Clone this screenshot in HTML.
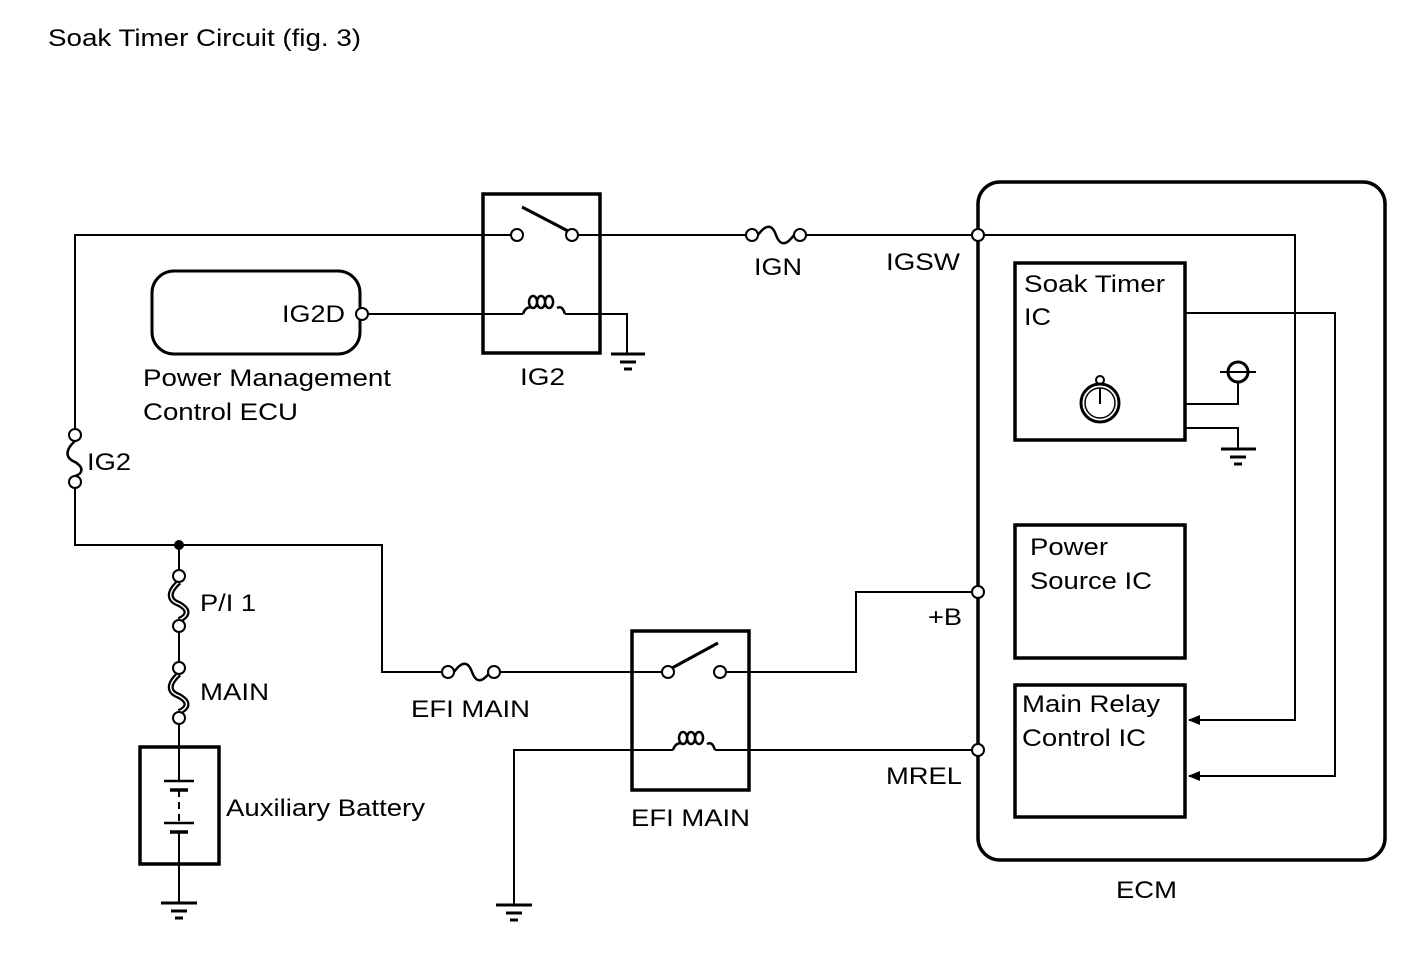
<!DOCTYPE html>
<html><head><style>
html,body{margin:0;padding:0;background:#fff;}
svg{display:block;}
text{font-family:"Liberation Sans",sans-serif;fill:#000;}
</style></head><body>
<svg width="1424" height="959" viewBox="0 0 1424 959" xmlns="http://www.w3.org/2000/svg">
<defs>
<marker id="ar" markerWidth="12" markerHeight="10" refX="11" refY="5" orient="auto" markerUnits="userSpaceOnUse">
<path d="M0,0 L12,5 L0,10 Z" fill="#000"/>
</marker>
</defs>
<text x="48" y="46" font-size="24" textLength="313" lengthAdjust="spacingAndGlyphs">Soak Timer Circuit (fig. 3)</text>
<g stroke="#000" stroke-width="2" fill="none">
<polyline points="75,435 75,235 511,235"/>
<line x1="578" y1="235" x2="746" y2="235"/>
<line x1="806" y1="235" x2="972" y2="235"/>
<polyline points="984,235 1295,235 1295,720 1189,720" marker-end="url(#ar)"/>
<path d="M758,235 C766,224 772,224 776,235 C780,246 786,246 794,235" stroke-width="2.5"/>
<rect x="483" y="194" width="117" height="159" stroke-width="3.5"/>
<line x1="522" y1="207" x2="568" y2="231" stroke-width="3"/>
<line x1="368" y1="314" x2="523" y2="314"/>
<path d="M523,314 c2,-6 6,-8 10,-6 M533,308 a4,6 0 1 1 0.1,0 M541,308 a4,6 0 1 1 0.1,0 M549,308 a4,6 0 1 1 0.1,0 M557,308 c4,-2 6,0 8,6" stroke-width="2.5"/>
<polyline points="565,314 627,314 627,353"/>
<rect x="152" y="271" width="208" height="83" rx="22" stroke-width="3"/>
<path d="M75,441 C65,450 65,458 75,462 C85,468 82,474 75,476" stroke-width="2.5"/>
<polyline points="75,488 75,545 382,545 382,672 442,672"/>
<path d="M454,672 C462,661 468,661 472,672 C476,683 482,683 490,672" stroke-width="2.5"/>
<line x1="500" y1="672" x2="662" y2="672"/>
<rect x="632" y="631" width="117" height="159" stroke-width="3.5"/>
<line x1="672" y1="668" x2="718" y2="643" stroke-width="3"/>
<polyline points="726,672 856,672 856,592 972,592"/>
<polyline points="514,905 514,750 673,750"/>
<path d="M673,750 c2,-6 6,-8 10,-6 M683,744 a4,6 0 1 1 0.1,0 M691,744 a4,6 0 1 1 0.1,0 M699,744 a4,6 0 1 1 0.1,0 M707,744 c4,-2 6,0 8,6" stroke-width="2.5"/>
<line x1="715" y1="750" x2="972" y2="750"/>
<line x1="179" y1="545" x2="179" y2="570"/>
<path d="M179,582 C168,592 168,600 179,604 C190,610 188,616 179,620" stroke-width="6"/>
<path d="M179,582 C168,592 168,600 179,604 C190,610 188,616 179,620" stroke="#fff" stroke-width="1.5"/>
<line x1="179" y1="632" x2="179" y2="662"/>
<path d="M179,674 C168,684 168,692 179,696 C190,702 188,708 179,712" stroke-width="6"/>
<path d="M179,674 C168,684 168,692 179,696 C190,702 188,708 179,712" stroke="#fff" stroke-width="1.5"/>
<line x1="179" y1="724" x2="179" y2="780"/>
<rect x="140" y="747" width="79" height="117" stroke-width="3.5"/>
<line x1="164" y1="781" x2="194" y2="781" stroke-width="2.5"/>
<line x1="170" y1="790" x2="188" y2="790" stroke-width="3.5"/>
<line x1="179" y1="790" x2="179" y2="823" stroke-dasharray="7,5"/>
<line x1="164" y1="823" x2="194" y2="823" stroke-width="2.5"/>
<line x1="170" y1="832" x2="188" y2="832" stroke-width="3.5"/>
<line x1="179" y1="832" x2="179" y2="902"/>
<rect x="978" y="182" width="407" height="678" rx="22" stroke-width="3.5"/>
<rect x="1015" y="263" width="170" height="177" stroke-width="3.5"/>
<rect x="1015" y="525" width="170" height="133" stroke-width="3.5"/>
<rect x="1015" y="685" width="170" height="132" stroke-width="3.5"/>
<polyline points="1185,313 1335,313 1335,776 1189,776" marker-end="url(#ar)"/>
<polyline points="1185,404 1238,404 1238,382"/>
<circle cx="1238" cy="372" r="10" stroke-width="3"/>
<line x1="1220" y1="372" x2="1256" y2="372"/>
<polyline points="1185,428 1238,428 1238,448"/>
<circle cx="1100" cy="403" r="19" stroke-width="3"/>
<circle cx="1100" cy="403" r="15" stroke-width="1.5"/>
<circle cx="1100" cy="380" r="4" stroke-width="2"/>
<line x1="1100" y1="388" x2="1100" y2="404" stroke-width="2"/>
</g>
<g stroke="#000" stroke-width="3">
<line x1="611" y1="354" x2="645" y2="354"/><line x1="620" y1="362" x2="636" y2="362"/><line x1="624" y1="369" x2="632" y2="369"/>
<line x1="1221" y1="449" x2="1256" y2="449"/><line x1="1230" y1="457" x2="1246" y2="457"/><line x1="1234" y1="464" x2="1242" y2="464"/>
<line x1="161" y1="903" x2="197" y2="903"/><line x1="171" y1="911" x2="187" y2="911"/><line x1="175" y1="918" x2="183" y2="918"/>
<line x1="496" y1="905" x2="532" y2="905"/><line x1="506" y1="913" x2="522" y2="913"/><line x1="510" y1="920" x2="518" y2="920"/>
</g>
<circle cx="179" cy="545" r="5" fill="#000"/>
<g stroke="#000" stroke-width="2" fill="#fff">
<circle cx="517" cy="235" r="6"/><circle cx="572" cy="235" r="6"/>
<circle cx="752" cy="235" r="6"/><circle cx="800" cy="235" r="6"/>
<circle cx="978" cy="235" r="6"/><circle cx="978" cy="592" r="6"/><circle cx="978" cy="750" r="6"/>
<circle cx="362" cy="314" r="6"/>
<circle cx="75" cy="435" r="6"/><circle cx="75" cy="482" r="6"/>
<circle cx="448" cy="672" r="6"/><circle cx="494" cy="672" r="6"/>
<circle cx="668" cy="672" r="6"/><circle cx="720" cy="672" r="6"/>
<circle cx="179" cy="576" r="6"/><circle cx="179" cy="626" r="6"/>
<circle cx="179" cy="668" r="6"/><circle cx="179" cy="718" r="6"/>
</g>
<g font-size="24" lengthAdjust="spacingAndGlyphs">
<text x="282" y="322" textLength="63" lengthAdjust="spacingAndGlyphs">IG2D</text>
<text x="143" y="386" textLength="248" lengthAdjust="spacingAndGlyphs">Power Management</text>
<text x="143" y="420" textLength="155" lengthAdjust="spacingAndGlyphs">Control ECU</text>
<text x="520" y="385" textLength="45" lengthAdjust="spacingAndGlyphs">IG2</text>
<text x="754" y="275" textLength="48" lengthAdjust="spacingAndGlyphs">IGN</text>
<text x="886" y="270" textLength="74" lengthAdjust="spacingAndGlyphs">IGSW</text>
<text x="87" y="470" textLength="44" lengthAdjust="spacingAndGlyphs">IG2</text>
<text x="200" y="611" textLength="56" lengthAdjust="spacingAndGlyphs">P/I 1</text>
<text x="200" y="700" textLength="69" lengthAdjust="spacingAndGlyphs">MAIN</text>
<text x="226" y="816" textLength="199" lengthAdjust="spacingAndGlyphs">Auxiliary Battery</text>
<text x="411" y="717" textLength="119" lengthAdjust="spacingAndGlyphs">EFI MAIN</text>
<text x="631" y="826" textLength="119" lengthAdjust="spacingAndGlyphs">EFI MAIN</text>
<text x="928" y="625" textLength="34" lengthAdjust="spacingAndGlyphs">+B</text>
<text x="886" y="784" textLength="76" lengthAdjust="spacingAndGlyphs">MREL</text>
<text x="1116" y="898" textLength="61" lengthAdjust="spacingAndGlyphs">ECM</text>
<text x="1024" y="292" textLength="141" lengthAdjust="spacingAndGlyphs">Soak Timer</text>
<text x="1024" y="325" textLength="27" lengthAdjust="spacingAndGlyphs">IC</text>
<text x="1030" y="555" textLength="78" lengthAdjust="spacingAndGlyphs">Power</text>
<text x="1030" y="589" textLength="122" lengthAdjust="spacingAndGlyphs">Source IC</text>
<text x="1022" y="712" textLength="138" lengthAdjust="spacingAndGlyphs">Main Relay</text>
<text x="1022" y="746" textLength="124" lengthAdjust="spacingAndGlyphs">Control IC</text>
</g>
</svg>
</body></html>
